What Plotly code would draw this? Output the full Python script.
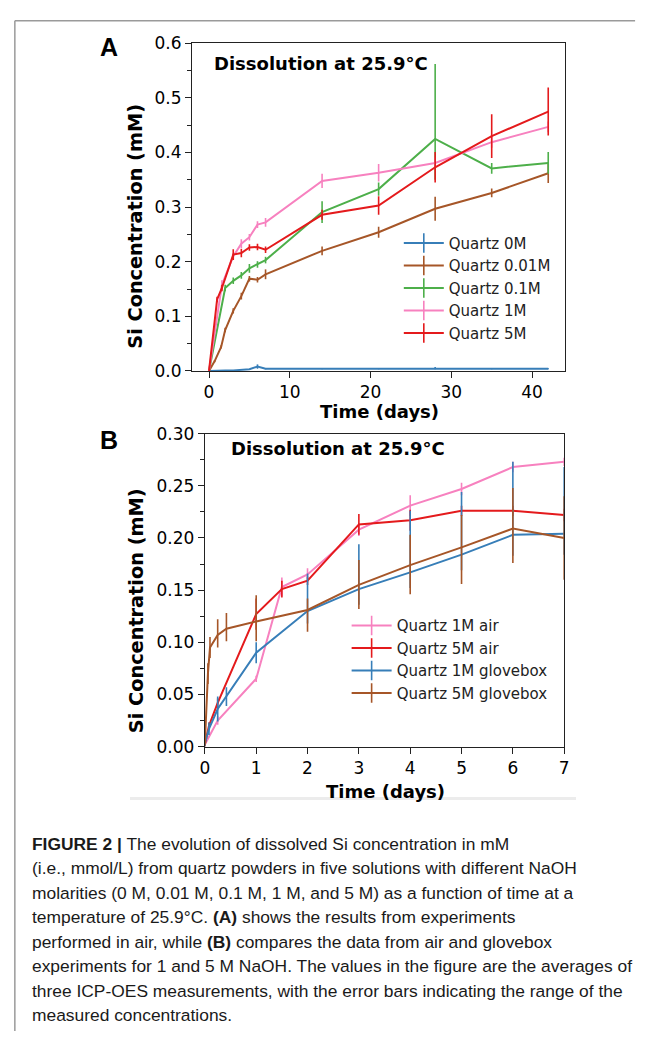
import plotly.graph_objects as go

W, H = 646, 1041

# ---------------- Panel A data (days, mM) ----------------
a_names = ["Quartz 0M", "Quartz 0.01M", "Quartz 0.1M", "Quartz 1M", "Quartz 5M"]
a_colors = ["#377eb8", "#a65628", "#4daf4a", "#f781bf", "#e41a1c"]

t_0M = [0, 1, 2, 3, 4, 5, 6, 7, 14, 21, 28, 35, 42]
c_0M = [0.0, 0.001, 0.001, 0.001, 0.002, 0.003, 0.008, 0.004, 0.004, 0.004, 0.005, 0.004, 0.004]
e_0M = [0, 0, 0, 0, 0, 0, 0.004, 0.001, 0.001, 0.001, 0.002, 0.001, 0.001]

t_001M = [0, 0.7, 1.5, 2, 3, 4, 5, 6, 7, 14, 21, 28, 35, 42]
c_001M = [0.0, 0.018, 0.044, 0.075, 0.11, 0.137, 0.169, 0.167, 0.177, 0.22, 0.254, 0.297, 0.326, 0.362]
e_001M = [0, 0.002, 0.003, 0.004, 0.005, 0.006, 0.005, 0.005, 0.009, 0.008, 0.01, 0.022, 0.008, 0.018]

t_01M = [0, 2, 3, 4, 5, 6, 7, 14, 21, 28, 35, 42]
c_01M = [0.0, 0.152, 0.165, 0.175, 0.188, 0.195, 0.203, 0.291, 0.333, 0.425, 0.371, 0.381]
e_01M_up = [0, 0.006, 0.006, 0.006, 0.008, 0.006, 0.006, 0.02, 0.012, 0.137, 0.01, 0.02]
e_01M_dn = [0, 0.006, 0.006, 0.006, 0.008, 0.006, 0.006, 0.02, 0.012, 0.075, 0.01, 0.02]

t_1M = [0, 1.6, 3, 4, 5, 6, 7, 14, 21, 28, 35, 42]
c_1M = [0.0, 0.158, 0.21, 0.233, 0.245, 0.268, 0.272, 0.348, 0.363, 0.381, 0.419, 0.447]
e_1M = [0, 0.008, 0.006, 0.008, 0.006, 0.006, 0.008, 0.013, 0.016, 0.01, 0.01, 0.01]

t_5M = [0, 1, 1.6, 3, 4, 5, 6, 7, 14, 21, 28, 35, 42]
c_5M = [0.0, 0.131, 0.152, 0.213, 0.216, 0.226, 0.227, 0.222, 0.286, 0.303, 0.373, 0.43, 0.475]
e_5M = [0, 0.005, 0.006, 0.01, 0.008, 0.006, 0.006, 0.006, 0.009, 0.017, 0.028, 0.04, 0.044]

# ---------------- Panel B data ----------------
b_names = ["Quartz 1M air", "Quartz 5M air", "Quartz 1M glovebox", "Quartz 5M glovebox"]
b_colors = ["#f781bf", "#e41a1c", "#377eb8", "#a65628"]

tb_1M_air = [0, 0.25, 1, 1.5, 2, 3, 4, 5, 6, 7]
cb_1M_air = [0.002, 0.025, 0.065, 0.153, 0.165, 0.208, 0.231, 0.247, 0.268, 0.273]
eb_1M_air = [0.002, 0.004, 0.003, 0.009, 0.006, 0.006, 0.01, 0.006, 0.005, 0.004]

tb_5M_air = [0, 0.08, 0.25, 1, 1.5, 2, 3, 4, 5, 6, 7]
cb_5M_air = [0.002, 0.02, 0.042, 0.127, 0.151, 0.159, 0.213, 0.217, 0.226, 0.226, 0.222]
eb_5M_air = [0.002, 0.003, 0.004, 0.015, 0.008, 0.004, 0.01, 0.01, 0.005, 0.005, 0.006]

tb_1M_gb = [0, 0.08, 0.25, 0.42, 1, 2, 3, 4, 5, 6, 7]
cb_1M_gb = [0.003, 0.017, 0.036, 0.048, 0.09, 0.13, 0.151, 0.167, 0.184, 0.203, 0.204]
eb_1M_gb_up = [0.003, 0.006, 0.012, 0.009, 0.01, 0.036, 0.043, 0.059, 0.06, 0.07, 0.064]
eb_1M_gb_dn = [0.003, 0.006, 0.012, 0.009, 0.01, 0.012, 0.015, 0.015, 0.015, 0.02, 0.02]

tb_5M_gb = [0, 0.06, 0.1, 0.25, 0.42, 1, 2, 3, 4, 5, 6, 7]
cb_5M_gb = [0.003, 0.07, 0.095, 0.107, 0.113, 0.12, 0.131, 0.155, 0.174, 0.191, 0.209, 0.2]
eb_5M_gb_up = [0.002, 0.01, 0.01, 0.015, 0.015, 0.025, 0.011, 0.024, 0.029, 0.031, 0.039, 0.04]
eb_5M_gb_dn = [0.002, 0.01, 0.01, 0.012, 0.012, 0.019, 0.021, 0.023, 0.028, 0.035, 0.033, 0.04]

panel_title = "Dissolution at 25.9°C"

fig = go.Figure()


def add_series(x, y, up, dn, color, name, xa, ya, legend):
    fig.add_trace(go.Scatter(
        x=x, y=y, mode="lines", line=dict(color=color, width=2),
        error_y=dict(type="data", array=up, arrayminus=dn, width=0,
                     thickness=1.6, color=color),
        xaxis=xa, yaxis=ya, showlegend=False, hoverinfo="skip"))
    # legend entry (line with a vertical error tick), no data of its own
    fig.add_trace(go.Scatter(
        x=[None], y=[None], mode="lines+markers", name=name,
        line=dict(color=color, width=2),
        marker=dict(symbol="line-ns-open", size=14,
                    line=dict(color=color, width=1.6)),
        xaxis=xa, yaxis=ya, legend=legend, showlegend=True))


a_series = [
    (t_0M, c_0M, e_0M, e_0M),
    (t_001M, c_001M, e_001M, e_001M),
    (t_01M, c_01M, e_01M_up, e_01M_dn),
    (t_1M, c_1M, e_1M, e_1M),
    (t_5M, c_5M, e_5M, e_5M),
]
for (x, y, up, dn), col, nm in zip(a_series, a_colors, a_names):
    add_series(x, y, up, dn, col, nm, "x", "y", "legend")

b_series = [
    (tb_1M_air, cb_1M_air, eb_1M_air, eb_1M_air),
    (tb_5M_air, cb_5M_air, eb_5M_air, eb_5M_air),
    (tb_1M_gb, cb_1M_gb, eb_1M_gb_up, eb_1M_gb_dn),
    (tb_5M_gb, cb_5M_gb, eb_5M_gb_up, eb_5M_gb_dn),
]
for (x, y, up, dn), col, nm in zip(b_series, b_colors, b_names):
    add_series(x, y, up, dn, col, nm, "x2", "y2", "legend2")


def px(x):
    return x / W


def py(y):
    return 1 - y / H


TICKFONT = dict(family="DejaVu Sans", size=17, color="black")
SPINE = "#222222"
common_axis = dict(showgrid=False, zeroline=False, showline=True, mirror=True,
                   linecolor=SPINE, linewidth=1.3, ticks="outside", ticklen=6,
                   tickwidth=1.3, tickcolor=SPINE, tickfont=TICKFONT)

fig.update_layout(
    width=W, height=H, autosize=False,
    margin=dict(l=0, r=0, t=0, b=0),
    paper_bgcolor="white", plot_bgcolor="white",
    xaxis=dict(domain=[px(190), px(569)], range=[-2.1, 44.1],
               tickvals=[0, 10, 20, 30, 40], anchor="y", **common_axis),
    yaxis=dict(domain=[py(368), py(34)], range=[0, 0.6], tickmode="linear",
               tick0=0, dtick=0.1, tickformat=".1f", anchor="x",
               minor=dict(dtick=0.05, ticks="outside", ticklen=3.5,
                          tickwidth=1.1, tickcolor=SPINE),
               **common_axis),
    xaxis2=dict(domain=[px(203), px(568)], range=[0, 7], tickmode="linear",
                tick0=0, dtick=1, anchor="y2", **common_axis),
    yaxis2=dict(domain=[py(751), py(432)], range=[0, 0.30], tickmode="linear",
                tick0=0, dtick=0.05, tickformat=".2f", anchor="x2",
                minor=dict(dtick=0.025, ticks="outside", ticklen=3.5,
                           tickwidth=1.1, tickcolor=SPINE),
                **common_axis),
    legend=dict(x=px(400), y=py(221), xanchor="left", yanchor="top",
                bgcolor="rgba(0,0,0,0)", borderwidth=0, itemwidth=40,
                font=dict(family="DejaVu Sans", size=15, color="#222")),
    legend2=dict(x=px(347), y=py(611), xanchor="left", yanchor="top",
                 bgcolor="rgba(0,0,0,0)", borderwidth=0, itemwidth=40,
                 font=dict(family="DejaVu Sans", size=15, color="#222")),
)

ann = []
BOLD = dict(family="DejaVu Sans", color="black")
# panel letters
ann.append(dict(text="<b>A</b>", x=px(106), y=py(38), font=dict(family="Liberation Sans", size=25, color="black")))
ann.append(dict(text="<b>B</b>", x=px(106), y=py(438), font=dict(family="Liberation Sans", size=25, color="black")))
# titles in plots
ann.append(dict(text="<b>%s</b>" % panel_title, x=px(210), y=py(55), xanchor="left",
                font=dict(size=18, **BOLD)))
ann.append(dict(text="<b>%s</b>" % panel_title, x=px(228), y=py(447), xanchor="left",
                font=dict(size=18, **BOLD)))
# axis titles
ann.append(dict(text="<b>Si Concentration (mM)</b>", x=px(133), y=py(220), textangle=-90,
                font=dict(size=19.3, **BOLD)))
ann.append(dict(text="<b>Si Concentration (mM)</b>", x=px(133), y=py(612), textangle=-90,
                font=dict(size=19.3, **BOLD)))
ann.append(dict(text="<b>Time (days)</b>", x=px(380), y=py(409), font=dict(size=18, **BOLD)))
ann.append(dict(text="<b>Time (days)</b>", x=px(386), y=py(797), font=dict(size=18, **BOLD)))

caption = [
    "<b>FIGURE 2 |</b> The evolution of dissolved Si concentration in mM",
    "(i.e., mmol/L) from quartz powders in five solutions with different NaOH",
    "molarities (0 M, 0.01 M, 0.1 M, 1 M, and 5 M) as a function of time at a",
    "temperature of 25.9°C. <b>(A)</b> shows the results from experiments",
    "performed in air, while <b>(B)</b> compares the data from air and glovebox",
    "experiments for 1 and 5 M NaOH. The values in the figure are the averages of",
    "three ICP-OES measurements, with the error bars indicating the range of the",
    "measured concentrations.",
]
for i, line in enumerate(caption):
    ann.append(dict(text=line, x=px(25), y=py(850 + 25 * i), xanchor="left",
                    font=dict(family="Liberation Sans", size=17.4, color="#1a1a1a")))

for a in ann:
    a.setdefault("xanchor", "center")
    a.update(xref="paper", yref="paper", showarrow=False, yanchor="middle")
fig.update_layout(annotations=ann)

shapes = [
    dict(type="line", x0=px(10), x1=px(640), y0=py(11), y1=py(11), line=dict(color="#9a9a9a", width=1.5)),
    dict(type="line", x0=px(10), x1=px(10), y0=py(11), y1=py(1041), line=dict(color="#9a9a9a", width=1.5)),
    dict(type="line", x0=px(127), x1=px(580), y0=py(804), y1=py(804), line=dict(color="#ececec", width=3)),
]
for s in shapes:
    s.update(xref="paper", yref="paper", layer="below")
fig.update_layout(shapes=shapes)

fig.write_html("out.html")
